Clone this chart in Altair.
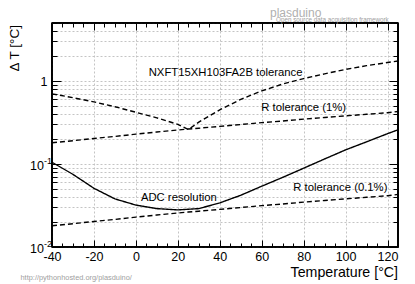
import altair as alt
import pandas as pd

# ---------------- data ----------------
temps = [-40, -30, -20, -10, 0, 10, 20, 25, 30, 40, 50, 60, 70, 80, 90, 100, 110, 120, 125]
adc_resolution = [0.105, 0.075, 0.051, 0.038, 0.032, 0.029, 0.028, 0.0285, 0.029, 0.034,
                  0.042, 0.054, 0.069, 0.089, 0.115, 0.148, 0.185, 0.232, 0.258]
r_tol_01 = [0.0180, 0.0191, 0.0203, 0.0215, 0.0229, 0.0243, 0.0257, 0.0264, 0.0270, 0.0284,
            0.0299, 0.0315, 0.0330, 0.0347, 0.0363, 0.0380, 0.0397, 0.0415, 0.0430]
r_tol_1 = [0.180, 0.191, 0.203, 0.215, 0.229, 0.243, 0.257, 0.264, 0.270, 0.284,
           0.299, 0.315, 0.330, 0.347, 0.363, 0.380, 0.397, 0.415, 0.430]
nxft_tol = [0.70, 0.63, 0.56, 0.49, 0.42, 0.36, 0.30, 0.26, 0.32, 0.45,
            0.60, 0.76, 0.92, 1.07, 1.22, 1.38, 1.53, 1.67, 1.74]

series_names = ["ADC resolution", "R tolerance (0.1%)", "R tolerance (1%)", "NXFT15XH103FA2B tolerance"]

label_texts = ["NXFT15XH103FA2B tolerance", "R tolerance (1%)", "ADC resolution", "R tolerance (0.1%)"]
label_t = [42.8, 80.0, 20.5, 97.5]
label_v = [1.25, 0.475, 0.0388, 0.0513]

x_domain = [-40, 125]
y_domain = [0.01, 5]
x_major = [-40, -20, 0, 20, 40, 60, 80, 100, 120]
x_minor = [-35, -30, -25, -15, -10, -5, 5, 10, 15, 25, 30, 35, 45, 50, 55, 65, 70, 75,
           85, 90, 95, 105, 110, 115, 125]
y_major = [0.01, 0.1, 1]
y_minor = [0.02, 0.03, 0.04, 0.05, 0.06, 0.07, 0.08, 0.09,
           0.2, 0.3, 0.4, 0.5, 0.6, 0.7, 0.8, 0.9, 2, 3, 4, 5]
y_label_base = ["10", "10", "1"]
y_label_exp = ["-2", "-1", ""]

# ---------------- tables ----------------
rows = []
for name, vals in zip(series_names, [adc_resolution, r_tol_01, r_tol_1, nxft_tol]):
    for t, v in zip(temps, vals):
        rows.append({"series": name, "T": t, "dT": v})
df = pd.DataFrame(rows)
df_labels = pd.DataFrame({"text": label_texts, "T": label_t, "dT": label_v})
df_xdom = pd.DataFrame({"T": x_domain})
df_ydom = pd.DataFrame({"dT": y_domain})
df_ylab = pd.DataFrame({"dT": y_major, "base": y_label_base, "exp": y_label_exp})
one = pd.DataFrame({"a": [0]})

W, H = 346, 224
FONT = "Liberation Sans"
GRID = "#c4c4c4"

xscale = alt.Scale(domain=x_domain, nice=False, zero=False)
yscale = alt.Scale(type="log", domain=y_domain, nice=False)

lines = alt.Chart(df).mark_line(strokeWidth=1.4, color="black").encode(
    x=alt.X("T:Q", scale=xscale,
            axis=alt.Axis(orient="bottom", values=x_major, title=None,
                          labelExpr="'' + datum.value", grid=True, gridColor=GRID,
                          gridDash=[2, 2], gridWidth=1, ticks=False, domain=False,
                          labelFontSize=12.5, labelFont=FONT, labelColor="black",
                          labelPadding=3, labelFlush=False)),
    y=alt.Y("dT:Q", scale=yscale,
            axis=alt.Axis(orient="left", values=y_major + y_minor, title=None, grid=True,
                          gridColor=GRID, gridDash=[2, 2], gridWidth=1, labels=False,
                          ticks=False, domain=False)),
    detail="series:N",
    strokeDash=alt.StrokeDash("series:N",
                              scale=alt.Scale(domain=series_names,
                                              range=[[1, 0], [5, 3], [5, 3], [5, 3]]),
                              legend=None),
)

def tick_axis(orient, values, size, offset):
    return alt.Axis(orient=orient, offset=offset, values=values, tickSize=size,
                    tickColor="black", tickWidth=1, ticks=True, labels=False, grid=False,
                    domain=False, title=None)

def xedge(at_top, values, size):
    # frame edge + inward ticks (axis moved onto the opposite edge)
    ax = tick_axis("bottom" if at_top else "top", values, size, -H)
    return alt.Chart(df_xdom).mark_line(color="black", strokeWidth=1.6).encode(
        x=alt.X("T:Q", scale=xscale, axis=ax), y=alt.value(0 if at_top else H))

def yedge(at_right, values, size):
    ax = tick_axis("left" if at_right else "right", values, size, -W)
    return alt.Chart(df_ydom).mark_line(color="black", strokeWidth=1.6).encode(
        y=alt.Y("dT:Q", scale=yscale, axis=ax), x=alt.value(W if at_right else 0))

edges = [
    xedge(False, x_major, 7), xedge(False, x_minor, 4),
    xedge(True, x_major, 7), xedge(True, x_minor, 4),
    yedge(False, y_major, 9), yedge(False, y_minor, 5),
    yedge(True, y_major, 9), yedge(True, y_minor, 5),
]

XN = lambda: alt.X("T:Q", scale=xscale, axis=None)
YN = lambda: alt.Y("dT:Q", scale=yscale, axis=None)

annot = alt.Chart(df_labels).mark_text(font=FONT, fontSize=11.3, color="black",
                                       baseline="middle", align="center").encode(
    x=XN(), y=YN(), text="text:N")

ylab_base = alt.Chart(df_ylab).transform_filter("datum.exp != ''").mark_text(
    font=FONT, fontSize=12.5, color="black", align="right", baseline="middle", dy=1.5
).encode(y=YN(), x=alt.value(-8), text="base:N")

ylab_exp = alt.Chart(df_ylab).transform_filter("datum.exp != ''").mark_text(
    font=FONT, fontSize=9, color="black", align="left", baseline="middle", dy=-3.5
).encode(y=YN(), x=alt.value(-8), text="exp:N")

ylab_one = alt.Chart(df_ylab).transform_filter("datum.exp == ''").mark_text(
    font=FONT, fontSize=12.5, color="black", align="right", baseline="middle", dy=0.5
).encode(y=YN(), x=alt.value(-4.5), text="base:N")

def free_text(txt, x, y, size, color="black", align="left", angle=0, baseline="middle"):
    kw = dict(text=txt, font=FONT, fontSize=size, color=color, align=align, baseline=baseline)
    if angle:
        kw["angle"] = angle
    return alt.Chart(one).mark_text(**kw).encode(x=alt.value(x), y=alt.value(y))

titles = [
    free_text("Temperature [°C]", W, 249.5, 14.2, align="right"),
    free_text("\u0394 T [°C]", -37, 2, 13.5, align="right", angle=270),
    free_text("plasduino", 218, -6.2, 12, color="#b0b0b0", baseline="alphabetic"),
    free_text("Open source data acquisition framework", 224, -1.4, 6.3, color="#a0a0a0",
              baseline="alphabetic"),
    free_text("http://pythonhosted.org/plasduino/", -31.5, 254.7, 7.4, color="#a0a0a0"),
]

chart = alt.layer(lines, *edges, annot, ylab_base, ylab_exp, ylab_one, *titles).resolve_axis(
    x="independent", y="independent"
).properties(
    width=W, height=H,
    autosize=alt.AutoSizeParams(type="none"),
    padding={"left": 44, "top": 15, "right": 9, "bottom": 37},
    background="white",
).configure_view(stroke="black", strokeWidth=1.6)

chart.save("out.html", embed_options={"renderer": "svg", "actions": False})
